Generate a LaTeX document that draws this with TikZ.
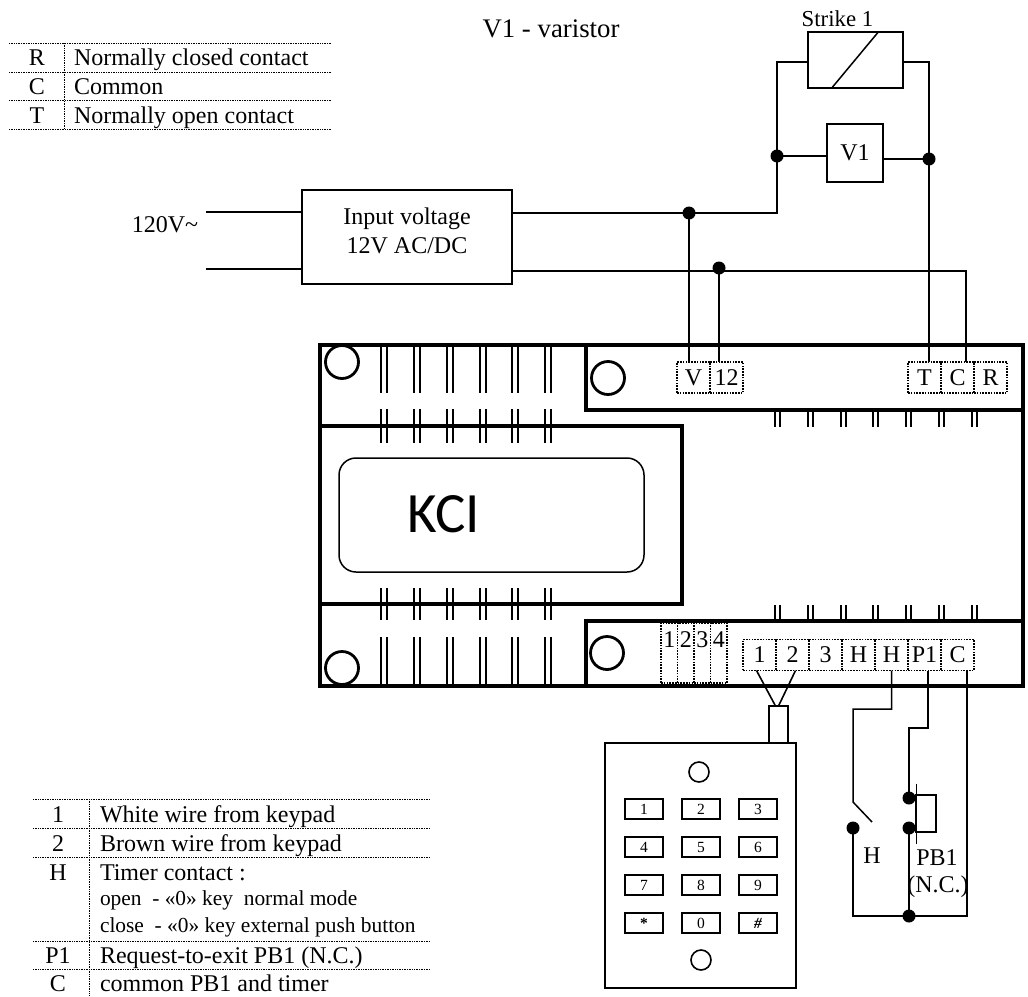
\documentclass[tikz,border=0pt]{standalone}
\usepackage{fontspec}
\setmainfont{Liberation Serif}
\newfontfamily\brandfont{Carlito}
\usetikzlibrary{calc, positioning}
\def\wirewidth{1.5pt}
\def\boardwidth{3.4pt}
\def\bodyfont{\fontsize{24}{29}\selectfont}
\def\notefont{\fontsize{21.4}{26}\selectfont}
\def\keyfont{\fontsize{15.5}{16}\selectfont}
\tikzset{
	% texts
	caption/.style={
		font=\bodyfont,
		align=center,
		inner sep=0pt,
		outer sep=0pt,
	},
	% wires and their joints
	wire/.style={
		line width=\wirewidth,
		line join=miter,
	},
	junction/.style={
		shape=circle,
		fill=black,
		minimum size=13pt,
		inner sep=0pt,
		outer sep=0pt,
	},
	% thin boxes
	box/.style={
		shape=rectangle,
		draw=black,
		line width=\wirewidth,
		inner sep=0pt,
		outer sep=0pt,
		font=\bodyfont,
		align=center,
	},
	% the board outline
	board/.style={
		shape=rectangle,
		draw=black,
		line width=\boardwidth,
		anchor=north west,
		inner sep=0pt,
		outer sep=0pt,
	},
	% holes of the board and keypad
	hole/.style={
		shape=circle,
		draw=black,
		line width=2.8pt,
		minimum size=33pt,
		inner sep=0pt,
	},
	% screw terminals
	terminal/.style={
		shape=rectangle,
		draw=black,
		line width=1.6pt,
		dash pattern=on 1.6pt off 1.2pt,
		minimum width=33pt,
		minimum height=31pt,
		anchor=west,
		inner sep=0pt,
		outer sep=0pt,
		font=\bodyfont,
	},
	jumper/.style={
		terminal,
		minimum width=16.5pt,
		minimum height=60pt,
		text height=24pt,
		text depth=36pt,
	},
	% dotted lines of the tables
	rule/.style={
		line width=1pt,
		dash pattern=on 1pt off 0.7pt,
	},
	tick/.style={
		line width=2pt,
	},
	keycap/.style={
		shape=rectangle,
		draw=black,
		line width=1.6pt,
		minimum width=38pt,
		minimum height=20pt,
		inner sep=0pt,
		font=\keyfont,
	},
}
\begin{document}
\begin{tikzpicture}[x=1pt, y=-1pt]
	\useasboundingbox (0,0) rectangle (1028,996);

	% Table of relay contacts
	\foreach \y in {43,72,100,129} {
		\draw[rule] (9,\y) -- (331,\y);
	}
	\draw[rule] (64,43) -- (64,129);
	\foreach \pin/\descr/\base in {
		R/Normally closed contact/65,
		C/Common/94,
		T/Normally open contact/123} {
		\node[caption, anchor=base] (relay_\pin) at (37,\base) {\pin};
		\node[caption, anchor=base west] (relay_text_\pin) at (74,\base) {\descr};
	}

	\node[caption] (title) at (551,29) {\fontsize{26.8}{29}\selectfont V1 - varistor};
	\node[caption] (mains) at (165,225) {120V\textasciitilde};

	% Power supply
	\node[
		box,
		minimum width=210pt,
		minimum height=94pt,
	] (input) at (407,237) {};
	\node[caption] (input_text) at (407,231) {Input voltage\\12V AC/DC};
	\coordinate (mains_a) at (206,212);
	\coordinate (mains_b) at (206,269);
	\draw[wire, line width=2pt] (mains_a) -- (mains_a -| input.west);
	\draw[wire, line width=2pt] (mains_b) -- (mains_b -| input.west);

	% Strike and varistor
	\node[
		box,
		minimum width=95pt,
		minimum height=56pt,
	] (strike) at (855.5,60) {};
	\node[caption, above=5pt of strike.north, xshift=-18pt] (strike_text) {\fontsize{22.8}{29}\selectfont Strike 1};
	\draw[wire] ($(strike.south west)!0.25!(strike.south east)$) --
		($(strike.north west)!0.74!(strike.north east)$);
	\node[
		box,
		minimum width=56pt,
		minimum height=58pt,
	] (varistor) at (855,153) {V1};
	\node[junction] (dot_left) at (777,156) {};
	\node[junction] (dot_right) at (929,159) {};
	\node[junction] (dot_v) at (689,213) {};
	\node[junction] (dot_twelve) at (719,268) {};

	% Board
	\node[
		board,
		minimum width=703pt,
		minimum height=341pt,
	] (pcb) at (320,345) {};
	\node[
		board,
		minimum width=437pt,
		minimum height=65pt,
	] (panel_top) at (586,345) {};
	\node[
		board,
		minimum width=437pt,
		minimum height=65pt,
	] (panel_bottom) at (586,621) {};
	\node[
		board,
		minimum width=362pt,
		minimum height=178pt,
	] (transformer) at (320,426) {};
	\node[
		box,
		rounded corners=17pt,
		minimum width=305pt,
		minimum height=114pt,
	] (nameplate) at (491.5,515) {};
	\node[caption, font=\brandfont\fontsize{57}{60}\selectfont] (brand) at (444,514) {KCI};
	\node[hole] (hole_a) at (342,362) {};
	\node[hole] (hole_b) at (342,668) {};
	\node[hole] (hole_c) at (608,378) {};
	\node[hole] (hole_d) at (607,653) {};

	% Ticks across the transformer
	\foreach \x in {384,417,450,483,515,548} {
		\foreach \s in {-3,3} {
			\foreach \ya/\yb in {347/393, 409/443, 588/620, 637/686} {
				\draw[tick] (\x+\s,\ya) -- (\x+\s,\yb);
			}
		}
	}
	% Ticks along the terminals
	\foreach \x in {777,810,843,875,908,941,974} {
		\foreach \s in {-2.5,2.5} {
			\foreach \ya/\yb in {412/427, 605/621} {
				\draw[tick] (\x+\s,\ya) -- (\x+\s,\yb);
			}
		}
	}

	% Upper terminals
	\node[terminal] (term_v) at (677,377.5) {V};
	\node[terminal] (term_twelve) at (term_v.east) {12};
	\node[terminal] (term_t) at (908,377.5) {T};
	\node[terminal] (term_c) at (term_t.east) {C};
	\node[terminal] (term_r) at (term_c.east) {R};

	% Lower terminals
	\node[terminal] (term_one) at (743,655) {1};
	\node[terminal] (term_two) at (term_one.east) {2};
	\node[terminal] (term_three) at (term_two.east) {3};
	\node[terminal] (term_ha) at (term_three.east) {H};
	\node[terminal] (term_hb) at (term_ha.east) {H};
	\node[terminal] (term_pone) at (term_hb.east) {P1};
	\node[terminal] (term_com) at (term_pone.east) {C};

	% Four narrow terminals
	\node[jumper] (jump1) at (661,653) {1};
	\foreach \i [count=\prev from 1] in {2,3,4} {
		\node[jumper] (jump\i) at (jump\prev.east) {\i};
	}

	% Connections
	%% Supply -> strike
	\coordinate (strike_in) at (777,62);
	\coordinate (strike_out) at (929,62);
	\coordinate (common_in) at (966,271);
	\draw[wire] (input.east |- dot_v) -- (dot_v.center) -| (dot_left.center);
	\draw[wire] (dot_left.center) |- (strike_in -| strike.west);
	\draw[wire] (strike_out -| strike.east) -| (dot_right.center);
	\draw[wire] (dot_left.center) -- (varistor.west |- dot_left);
	\draw[wire] (dot_right.center) -- (varistor.east |- dot_right);
	%% Strike -> T
	\draw[wire] (dot_right.center) -- (dot_right |- term_t.north);
	%% Supply -> V, 12, C
	\draw[wire] (dot_v.center) -- (dot_v |- term_v.north);
	\draw[wire] (dot_twelve.center) -- (dot_twelve |- term_twelve.north);
	\draw[wire] (input.east |- common_in) -- (common_in) -- (common_in |- term_c.north);

	% Keypad
	\node[
		box,
		anchor=north west,
		minimum width=191pt,
		minimum height=245pt,
	] (keypad) at (605,743) {};
	\node[
		box,
		anchor=south,
		minimum width=19pt,
		minimum height=37pt,
	] (cable) at (778.5,743) {};
	\node[hole, line width=1.6pt, minimum size=20pt] (lens_top) at (699,772) {};
	\node[hole, line width=1.6pt, minimum size=20pt] (lens_bottom) at (701,960) {};
	\foreach \keytext/\col/\row in {
		1/0/0, 2/1/0, 3/2/0,
		4/0/1, 5/1/1, 6/2/1,
		7/0/2, 8/1/2, 9/2/2,
		{\textbf{*}}/0/3, 0/1/3, {\textbf{\textit{\#}}}/2/3} {
		\node[keycap] (key_\col_\row) at (644+57*\col,809+38*\row) {\keytext};
	}
	\draw[wire, line width=1.6pt] ($(term_one.south)+(-3,0)$) -- ($(cable.north)+(-3,0)$);
	\draw[wire, line width=1.6pt] ($(term_two.south)+(3,0)$) -- ($(cable.north)+(0,0)$);

	% Timer contact and push button
	\node[junction] (dot_timer) at (853,828) {};
	\node[junction] (dot_pb_top) at (909,798) {};
	\node[junction] (dot_pb_bottom) at (909,828) {};
	\node[junction] (dot_common) at (909,916) {};
	\coordinate (timer_top) at (853,709);
	\coordinate (timer_hinge) at (853,802);
	\coordinate (timer_tip) at (872,822);
	\coordinate (pone_out) at (928,671);
	\coordinate (pone_top) at (909,728);
	\coordinate (com_out) at (967,671);
	\draw[wire] (term_hb.south) |- (timer_top) -- (timer_hinge) -- (timer_tip);
	\draw[wire] (pone_out) |- (pone_top) -- (dot_pb_top.center);
	\draw[wire] (dot_pb_bottom.center) -- (dot_common.center);
	\draw[wire] (dot_timer.center) |- (dot_common.center);
	\draw[wire] (com_out) |- (dot_common.center);
	\node[
		box,
		minimum width=20pt,
		minimum height=37pt,
	] (button) at (926,813.5) {};
	\draw[wire, line width=2.4pt] (button.west |- dot_pb_top) -- (button.west |- dot_pb_bottom);
	\draw[wire, line width=1pt] ($(button.west)+(0,-30)$) -- ($(button.west)+(0,30)$);
	\node[caption] (timer_text) at (872,856) {H};
	\node[caption] (button_text) at (937,858) {PB1};
	\node[caption] (button_note) at (938,887) {(N.C.)};

	% Table of keypad and timer terminals
	\foreach \y in {799,828,857,941,969} {
		\draw[rule] (33,\y) -- (430,\y);
	}
	\draw[rule] (89,799) -- (89,996);
	\foreach \pin/\descr/\base [count=\i] in {
		1/White wire from keypad/822,
		2/Brown wire from keypad/851,
		H/Timer contact :/880,
		P1/Request-to-exit PB1 (N.C.)/963,
		C/common PB1 and timer/991} {
		\node[caption, anchor=base] (legend\i) at (58,\base) {\pin};
		\node[caption, anchor=base west] (legend_text\i) at (100,\base) {\descr};
	}
	\node[caption, font=\notefont, anchor=base west] (legend_open) at (100,905)
		{open\ \ - «0» key\ \ normal mode};
	\node[caption, font=\notefont, anchor=base west] (legend_close) at (100,932)
		{close\ \ - «0» key external push button};
\end{tikzpicture}
\end{document}
